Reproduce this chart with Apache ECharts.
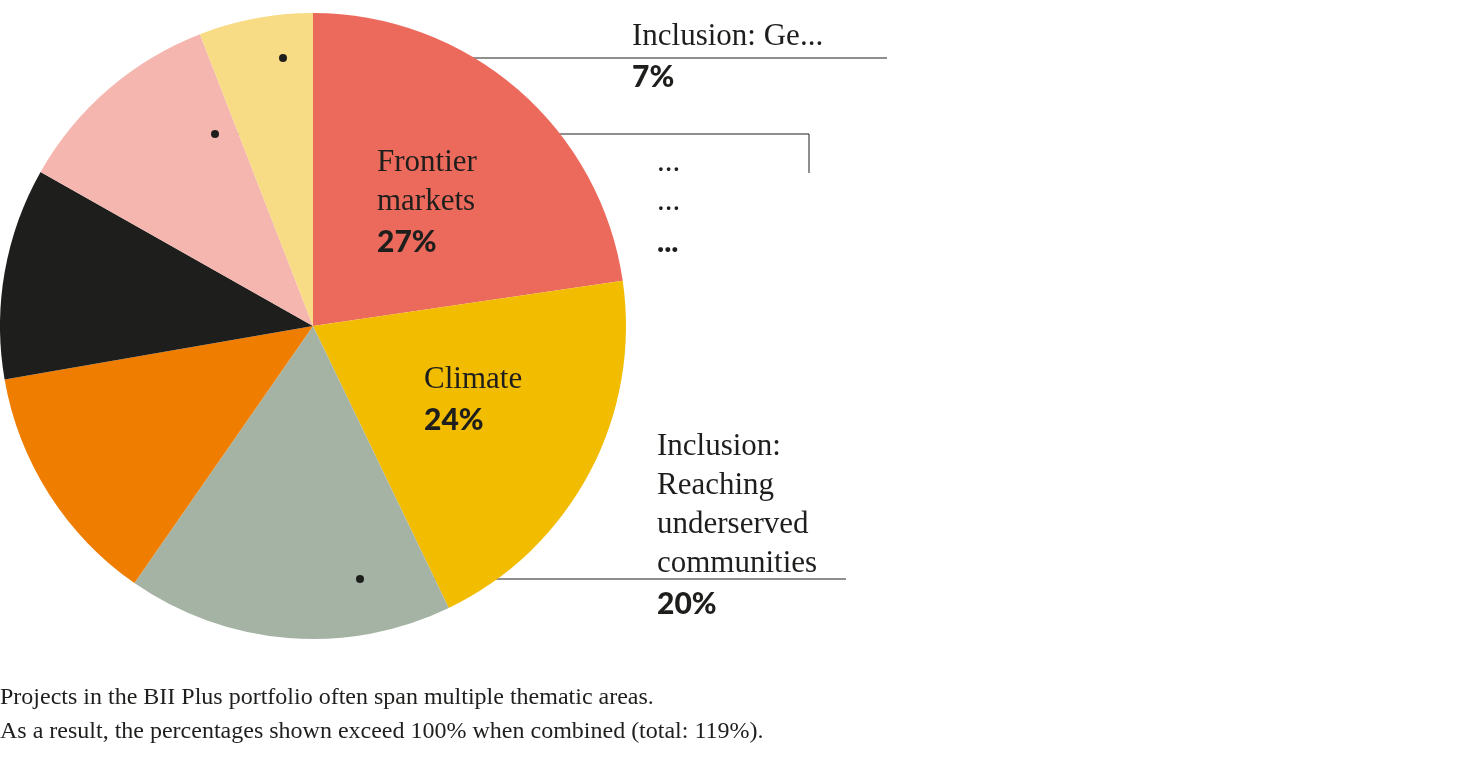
<!DOCTYPE html>
<html><head><meta charset="utf-8">
<script src="https://cdn.jsdelivr.net/npm/echarts@6/dist/echarts.min.js"></script>
<style>html,body{margin:0;padding:0;background:#fff}#c{width:1476px;height:769px}</style>
</head><body><div id="c"></div>
<script>
const names = [['Frontier','markets'],['Climate'],['Inclusion:','Reaching','underserved','communities'],['Other'],['ESG'],['Inclusion:','Smallholder farmers'],['Inclusion: Gender']];
const values = [27,24,20,15,13,13,7];
const colors = ['#EC6A5C','#F2BC00','#A5B3A5','#EE7D00','#1E1E1C','#F4B6AF','#F8DC85'];
const labelPos = [[377,143],[424,360],[657,427],[100,394],[81,254],[657,143],[632,17]];
const linePts = [null,null,[[360,579],[846,579],[846,579]],null,null,[[215,134],[809,134],[809,173]],[[283,58],[887,58],[887,58]]];
const chart = echarts.init(document.getElementById('c'));
const data = values.map((v,i)=>({
  value:v, name:names[i].join(' '),
  itemStyle:{color:colors[i]},
  label:{formatter: names[i].map(s=>'{n|'+s+'}').join('\n')+'\n{p|'+v+'%}',
    rich:{n:{color:i===4?'#fff':'#1e1e1c'},p:{color:i===4?'#fff':'#1e1e1c'}}},
  labelLine:{show:!!linePts[i]}
}));
const dots = linePts.filter(p=>p).map(p=>({type:'circle',shape:{cx:p[0][0],cy:p[0][1],r:4},style:{fill:'#1e1e1c'},z:100}));
chart.setOption({
  animation:false,
  title:{text:'Projects in the BII Plus portfolio often span multiple thematic areas.\nAs a result, the percentages shown exceed 100% when combined (total: 119%).',
    left:0,top:681,padding:0,textStyle:{fontFamily:'Liberation Serif',fontSize:24,fontWeight:'normal',color:'#1e1e1c',lineHeight:34}},
  graphic:dots,
  series:[{type:'pie',center:[313,326],radius:[0,313],startAngle:90,clockwise:true,
    data:data,
    label:{show:true,position:'outside',align:'left',
      rich:{n:{fontFamily:'Liberation Serif',fontSize:31,lineHeight:39},p:{fontFamily:'Lato',fontWeight:900,fontSize:30,lineHeight:42}}},
    labelLine:{lineStyle:{color:'#1e1e1c',width:1}},
    labelLayout:function(p){const i=p.dataIndex;const r={x:labelPos[i][0],y:labelPos[i][1],align:'left',verticalAlign:'top'};if(linePts[i])r.labelLinePoints=linePts[i];return r;}
  }]
});
</script></body></html>
